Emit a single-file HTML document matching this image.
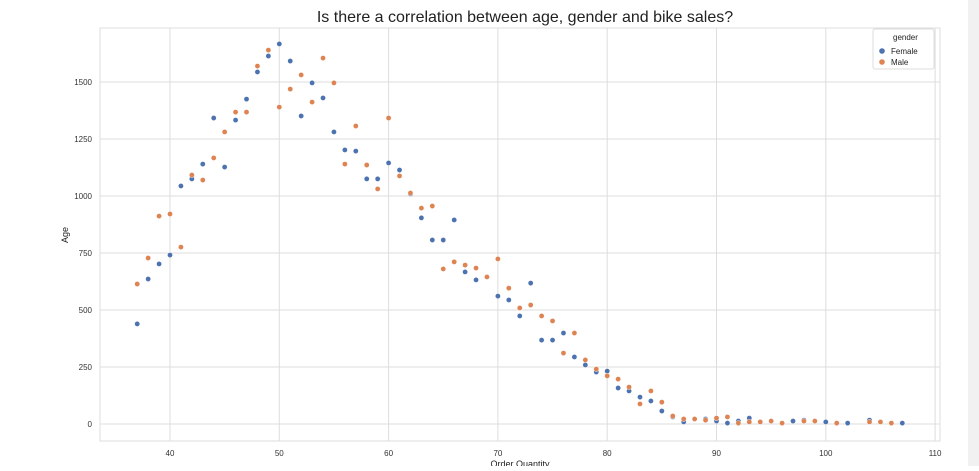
<!DOCTYPE html>
<html><head><meta charset="utf-8"><style>
body{margin:0;background:#fff;width:979px;height:466px;overflow:hidden;font-family:"Liberation Sans",sans-serif}
svg text{font-family:"Liberation Sans",sans-serif}
</style></head><body>
<svg id="c" width="979" height="466">
<rect x="968" y="0" width="11" height="466" fill="#f1f1f1"/>
<text x="525" y="22" font-size="16" text-anchor="middle" fill="#222">Is there a correlation between age, gender and bike sales?</text>
<g id="grid"></g><g id="pts"></g>
<text x="520" y="467" font-size="9" text-anchor="middle" fill="#222">Order Quantity</text>
<text x="68" y="235" font-size="9" text-anchor="middle" fill="#222" transform="rotate(-90 68 235)">Age</text>
<g>
<rect x="873" y="29" width="61" height="40" fill="#fff" stroke="#ddd" rx="2"/>
<text x="893" y="40" font-size="8" fill="#222">gender</text>
<circle cx="882" cy="51" r="2.8" fill="#4c72b0"/>
<text x="891" y="54" font-size="8" fill="#222">Female</text>
<circle cx="882" cy="62" r="2.8" fill="#dd8452"/>
<text x="891" y="65" font-size="8" fill="#222">Male</text>
</g>
</svg>
<script>
const xTicks=[40,50,60,70,80,90,100,110];
const yTicks=[0,250,500,750,1000,1250,1500];
const femaleQty=[37,38,39,40,41,42,43,44,45,46,47,48,49,50,51,52,53,54,55,56,57,58,59,60,61,62,63,64,65,66,67,68,70,71,72,73,74,75,76,77,78,79,80,81,82,83,84,85,86,87,89,90,91,92,93,94,97,98,100,102,104,107];
const femaleAge=[439,636,702,741,1044,1075,1140,1342,1127,1333,1425,1544,1614,1667,1592,1351,1496,1430,1281,1202,1197,1075,1075,1145,1114,1009,904,807,807,895,667,632,561,544,474,618,368,368,399,294,259,228,232,158,145,118,101,57,31,9,22,13,4,13,26,9,13,17,9,4,17,4];
const maleQty=[37,38,39,40,41,42,43,44,45,46,47,48,49,50,51,52,53,54,55,56,57,58,59,60,61,62,63,64,65,66,67,68,69,70,71,72,73,74,75,76,77,78,79,80,81,82,83,84,85,86,87,88,89,90,91,92,93,94,95,96,98,99,101,104,105,106];
const maleAge=[614,728,912,921,776,1092,1070,1167,1281,1368,1368,1570,1640,1390,1469,1531,1412,1605,1496,1140,1307,1136,1031,1342,1088,1013,947,956,680,711,697,684,645,724,596,509,522,474,452,311,399,281,241,211,197,162,88,145,96,35,22,22,17,26,31,4,9,9,13,4,13,13,4,9,9,4];
const X=v=>170+(v-40)*10.93, Y=v=>424-v*0.228;
const NS='http://www.w3.org/2000/svg';
const g=document.getElementById('grid'), p=document.getElementById('pts');
function mk(t,a,par){const e=document.createElementNS(NS,t);for(const k in a)e.setAttribute(k,a[k]);par.appendChild(e);return e;}
const frame=mk('rect',{x:100,y:28,width:840,height:413,fill:'none',stroke:'#ddd'},g);


xTicks.forEach(t=>{const x=X(t);
 const l=mk('line',{x1:x,x2:x,y1:28,y2:441,stroke:'#ddd'},g);
 
 
 const tx=mk('text',{x:x,y:456,'font-size':8,'text-anchor':'middle',fill:'#333'},g);tx.textContent=t;
 
 });
yTicks.forEach(t=>{const y=Y(t);
 const l=mk('line',{x1:100,x2:940,y1:y,y2:y,stroke:'#ddd'},g);
 
 
 const tx=mk('text',{x:92,y:y+3,'font-size':8,'text-anchor':'end',fill:'#333'},g);tx.textContent=t;
 
 });
function series(q,a,c,name){q.forEach((v,i)=>{const d=mk('circle',{cx:X(v),cy:Y(a[i]),r:2.6,fill:c,stroke:'#fff','stroke-width':0.4},p);
 
 });}
series(femaleQty,femaleAge,'#4c72b0','female-point');
series(maleQty,maleAge,'#dd8452','male-point');
</script>
</body></html>
